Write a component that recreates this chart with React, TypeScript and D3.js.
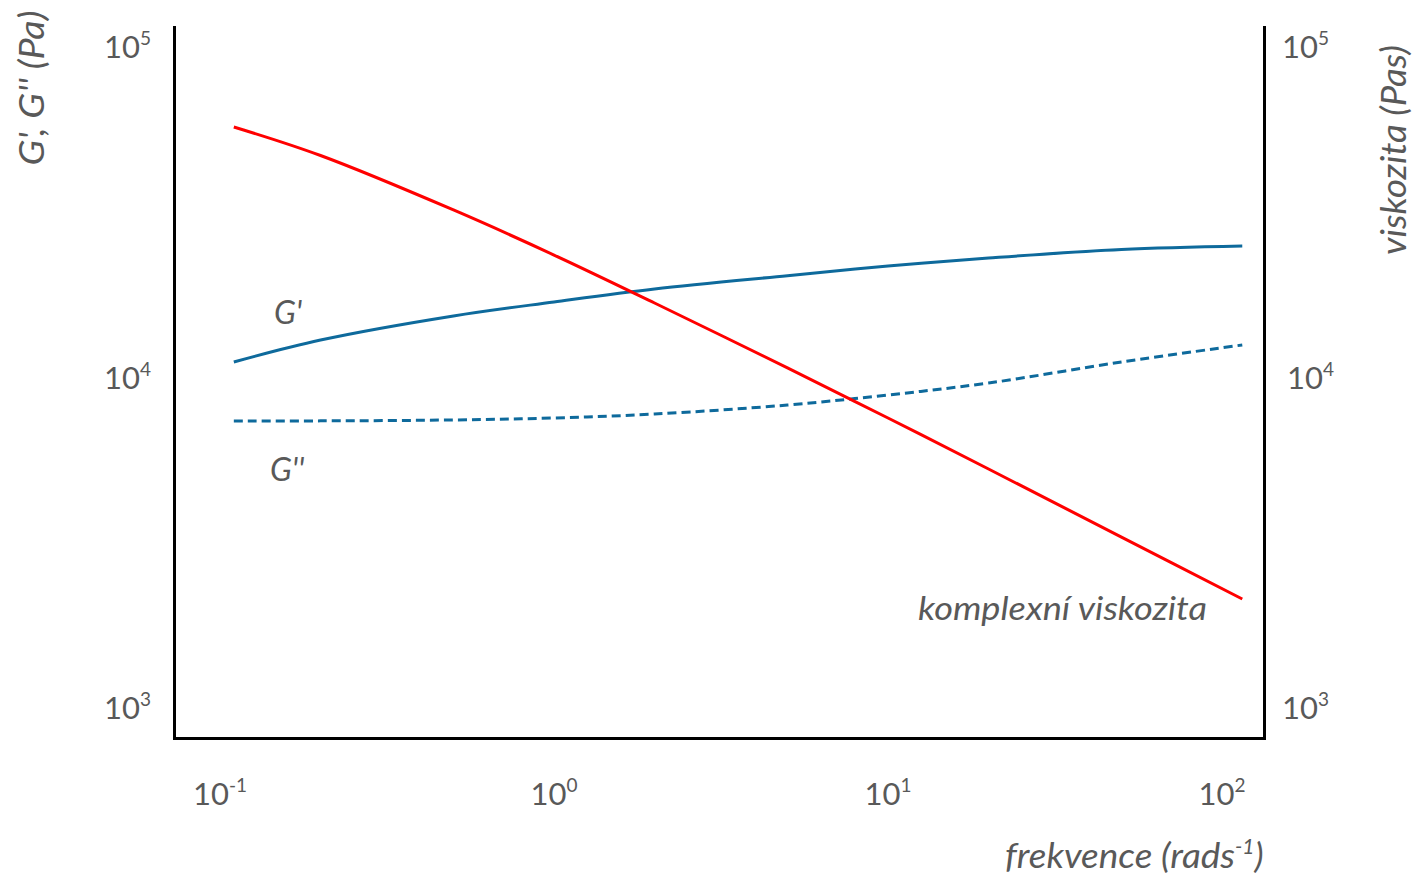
import React from "react";
import * as d3 from "d3";

// frequency (rad/s)
const freq = [0.11, 0.2, 0.5, 1, 2, 5, 10, 20, 50, 115];
// storage modulus G' (Pa)
const gPrime = [10985, 12800, 15140, 16690, 18270, 20050, 21450, 22670, 24060, 24650];
// loss modulus G'' (Pa)
const gDouble = [7285, 7290, 7337, 7438, 7647, 8140, 8730, 9490, 10985, 12370];
// complex viscosity (Pa s)
const viscosity = [56480, 46300, 31680, 23150, 16570, 10540, 7436, 5213, 3245, 2108];

const xTickExps = ["-1", "0", "1", "2"];
const xTicks = [0.1, 1, 10, 100];
const yTickExps = ["5", "4", "3"];
const yTicks = [1e5, 1e4, 1e3];

const W = 1418;
const H = 878;
const FONT = "Lato, 'Open Sans', sans-serif";
const GREY = "#595959";
const BLUE = "#0E6A9C";
const RED = "#FF0000";

export default function App() {
  const axLeft = 174.5;
  const axRight = 1264.5;
  const axTop = 26;
  const axBottom = 738.5;

  const x = d3.scaleLog().domain([0.1, 100]).range([220, 1222]);
  const y = d3.scaleLog().domain([1e3, 1e5]).range([706, 45]);

  const line = (vals: number[]) =>
    d3
      .line<number>()
      .x((_, i) => x(freq[i]))
      .y((v) => y(v))
      .curve(d3.curveCatmullRom.alpha(0.5))(vals) || "";

  return (
    <svg width={W} height={H} style={{ display: "block", position: "absolute", left: 0, top: 0 }}>
      <rect width={W} height={H} fill="#fff" />
      {/* axes */}
      <path
        d={`M${axLeft},${axTop} L${axLeft},${axBottom} L${axRight},${axBottom} L${axRight},${axTop}`}
        fill="none"
        stroke="#000"
        strokeWidth={3}
      />
      {/* lines */}
      <path d={line(gPrime)} fill="none" stroke={BLUE} strokeWidth={3} />
      <path d={line(gDouble)} fill="none" stroke={BLUE} strokeWidth={3} strokeDasharray="9 5" />
      <path d={line(viscosity)} fill="none" stroke={RED} strokeWidth={3} />

      {/* left tick labels */}
      {yTicks.map((t, i) => (
        <text key={"l" + i} x={151} y={y(t) + 13} textAnchor="end" fontFamily={FONT} fontSize={31} fill={GREY}>
          10
          <tspan fontSize={19} dy={-13}>{yTickExps[i]}</tspan>
        </text>
      ))}
      {/* right tick labels */}
      {yTicks.map((t, i) => (
        <text key={"r" + i} x={i === 1 ? 1287 : 1282} y={y(t) + 13} textAnchor="start" fontFamily={FONT} fontSize={31} fill={GREY}>
          10
          <tspan fontSize={19} dy={-13}>{yTickExps[i]}</tspan>
        </text>
      ))}
      {/* x tick labels */}
      {xTicks.map((t, i) => (
        <text key={"x" + i} x={x(t)} y={805} textAnchor="middle" fontFamily={FONT} fontSize={31} fill={GREY}>
          10
          <tspan fontSize={19} dy={-13}>{xTickExps[i]}</tspan>
        </text>
      ))}

      {/* axis titles */}
      <text
        transform="translate(44,88) rotate(-90)"
        textAnchor="middle"
        fontFamily={FONT}
        fontStyle="italic"
        fontSize={35}
        fill={GREY}
        textLength={155}
        lengthAdjust="spacingAndGlyphs"
      >
        G', G'' (Pa)
      </text>
      <text
        transform="translate(1406,150) rotate(-90)"
        textAnchor="middle"
        fontFamily={FONT}
        fontStyle="italic"
        fontSize={35}
        fill={GREY}
        textLength={210}
        lengthAdjust="spacingAndGlyphs"
      >
        viskozita (Pas)
      </text>
      <text x={1005} y={868} fontFamily={FONT} fontStyle="italic" fontSize={35} fill={GREY}>
        <tspan textLength={230} lengthAdjust="spacingAndGlyphs">frekvence (rads</tspan>
        <tspan fontSize={21} dy={-14}>-1</tspan>
        <tspan dy={14}>)</tspan>
      </text>

      {/* series labels */}
      <text x={274} y={324} fontFamily={FONT} fontStyle="italic" fontSize={32} fill={GREY}>
        G'
      </text>
      <text x={270} y={481} fontFamily={FONT} fontStyle="italic" fontSize={32} fill={GREY}>
        G''
      </text>
      <text
        x={918}
        y={620}
        fontFamily={FONT}
        fontStyle="italic"
        fontSize={33}
        fill={GREY}
        textLength={289}
        lengthAdjust="spacingAndGlyphs"
      >
        komplexní viskozita
      </text>
    </svg>
  );
}
